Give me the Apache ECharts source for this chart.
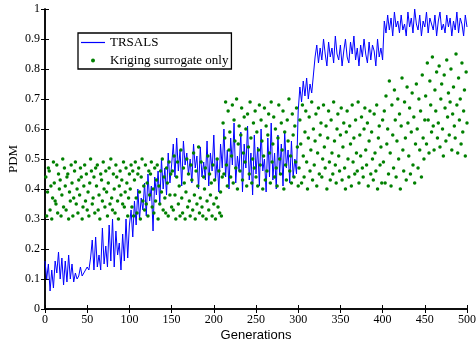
<!DOCTYPE html>
<html>
<head>
<meta charset="utf-8">
<script src="https://cdn.jsdelivr.net/npm/echarts@6/dist/echarts.min.js"></script>
<style>html,body{margin:0;padding:0;background:#fff}#c{width:476px;height:346px}</style>
</head>
<body>
<div id="c"></div>
<script>
// TRSALS line: generations 0,2,4,...,500
const trsals = [
.16,.10,.15,.06,.13,.07,.16,.12,.19,.10,.17,.08,.16,.09,.18,.10,.15,.09,
.12,.10,.11,.14,.11,.12,.13,.14,.13,.17,
.23,.13,.24,.14,.18,.13,.27,.15,.21,.14,.28,.16,.30,.14,.26,.18,.22,.13,.25,.16,.30,.17,.28,
.33,.24,.36,.28,.40,.30,.37,.33,.42,.31,.45,.36,.41,.26,.44,.38,.46,.35,.50,.40,.47,.38,.52,.42,.48,
.55,.44,.57,.46,.53,.41,.56,.48,.52,.45,
.50,.42,.55,.47,.51,.40,.54,.44,.49,.43,
.56,.41,.52,.46,.58,.43,.50,.39,.55,.47,
.60,.44,.53,.40,.57,.48,.62,.42,.51,.46,
.59,.39,.55,.47,.61,.43,.52,.38,.58,.45,
.54,.41,.60,.46,.50,.39,.57,.44,.62,.43,
.52,.40,.58,.45,.55,.41,.59,.47,.53,.42,
.56,.44,.50,.45,
.66,.74,.69,.76,.71,.77,.70,.75,.72,.78,
.84,.88,.82,.87,.83,.90,.85,.81,.89,.84,
.87,.82,.91,.85,.83,.88,.81,.86,.90,.84,
.82,.89,.85,.91,.83,.87,.81,.88,.84,.90,
.85,.82,.89,.83,.88,.86,.81,.90,.84,.87,
.83,
.96,.92,.98,.93,.97,.91,.99,.94,.96,.92,
.98,.93,.95,.91,.99,.94,.97,.92,1.0,.95,
.93,.98,.91,.96,.94,.99,.92,.97,.95,.93,
.98,.91,.96,.99,.93,.95,.92,.98,.94,.97,
.91,.96,.93,.99,.92,.97,.95,.91,.98,.94
];
const trsalsStep = 2;

// Kriging surrogate only: generations 1..500
const kriging = [
.44,.31,.39,.47,.46,.33,.41,.30,.37,.49, .42,.36,.35,.48,.32,.45,.40,.43,.31,.38,
.50,.34,.47,.41,.33,.44,.45,.30,.39,.36, .48,.42,.31,.37,.46,.49,.35,.40,.32,.43,
.38,.47,.44,.30,.34,.41,.48,.36,.45,.33, .39,.31,.42,.50,.46,.35,.37,.44,.32,.47,
.41,.48,.33,.38,.30,.45,.43,.36,.49,.40, .34,.46,.39,.31,.42,.47,.35,.50,.37,.33,
.45,.40,.32,.48,.44,.36,.30,.41,.46,.38, .43,.35,.49,.34,.39,.47,.42,.31,.37,.45,
.40,.48,.34,.46,.31,.43,.49,.37,.32,.45, .47,.39,.30,.44,.50,.36,.41,.33,.48,.35,
.42,.31,.46,.38,.45,.49,.34,.40,.32,.47, .36,.43,.48,.30,.41,.35,.46,.39,.50,.33,
.44,.37,.32,.47,.42,.31,.49,.38,.45,.34,
.46,.33,.51,.38,.30,.44,.49,.35,.41,.31, .53,.37,.32,.47,.42,.30,.39,.50,.34,.45,
.36,.31,.48,.43,.33,.52,.38,.30,.46,.35, .41,.54,.32,.37,.49,.34,.31,.44,.40,.47,
.30,.36,.51,.33,.45,.38,.42,.31,.48,.35, .43,.30,.37,.50,.34,.46,.32,.39,.31,.44,
.62,.45,.57,.69,.48,.41,.66,.53,.59,.44, .51,.68,.42,.63,.56,.47,.70,.40,.55,.61,
.46,.58,.67,.43,.52,.64,.49,.60,.41,.65, .54,.45,.69,.57,.42,.50,.62,.47,.66,.44,
.59,.41,.53,.68,.48,.63,.56,.40,.51,.67, .43,.61,.46,.58,.65,.52,.42,.69,.49,.55,
.64,.44,.60,.47,.41,.57,.68,.50,.45,.62, .53,.66,.40,.59,.48,.43,.63,.56,.70,.46,
.51,.42,.65,.58,.44,.61,.49,.67,.54,.41,
.47,.63,.55,.42,.68,.51,.44,.59,.66,.49, .40,.57,.64,.46,.53,.69,.43,.60,.48,.56,
.65,.41,.52,.67,.45,.58,.62,.44,.50,.68, .54,.47,.61,.40,.57,.66,.49,.43,.63,.52,
.45,.69,.56,.48,.42,.60,.65,.51,.46,.58, .67,.43,.54,.62,.47,.40,.59,.66,.50,.44,
.61,.55,.41,.68,.49,.57,.45,.63,.52,.46, .69,.42,.58,.51,.64,.47,.44,.60,.67,.53,
.48,.62,.41,.56,.66,.45,.59,.50,.43,.65, .52,.46,.68,.40,.57,.61,.48,.54,.42,.63,
.49,.66,.42,.71,.55,.60,.45,.76,.52,.41, .68,.58,.47,.73,.63,.44,.56,.70,.50,.65,
.40,.61,.77,.53,.46,.69,.57,.43,.74,.62, .51,.67,.45,.59,.72,.48,.64,.42,.55,.75,
.60,.47,.70,.53,.66,.44,.78,.57,.50,.63,
.71,.55,.82,.63,.52,.76,.68,.59,.84,.61, .53,.73,.66,.79,.57,.62,.81,.54,.70,.75,
.60,.51,.78,.67,.56,.83,.64,.72,.58,.69, .80,.53,.65,.74,.61,.57,.85,.68,.52,.77,
.63,.70,.55,.82,.59,.66,.73,.51,.79,.62
];
const krigingStart = 1;

const xTicks = [0,50,100,150,200,250,300,350,400,450,500];
const yTicks = [0,0.1,0.2,0.3,0.4,0.5,0.6,0.7,0.8,0.9,1];

const lineData = trsals.map((v,i)=>[i*trsalsStep, v]);
const dotData = kriging.map((v,i)=>[i+krigingStart, v]);

const serif = '"Liberation Serif","Times New Roman",serif';
const axisLine = {show:true, lineStyle:{color:'#000', width:1.5}};
const tick = {show:true, inside:true, length:4, lineStyle:{color:'#000'}};
const chart = echarts.init(document.getElementById('c'), null, {renderer:'canvas'});
chart.setOption({
  animation:false,
  backgroundColor:'#fff',
  grid:{left:45, right:9, top:9, bottom:37, containLabel:false, outerBoundsMode:'none'},
  legend:{
    show:true, orient:'vertical', left:78, top:33,
    padding:[3,3,2,3], itemGap:5, itemWidth:24, itemHeight:4,
    backgroundColor:'#fff', borderColor:'#000', borderWidth:1.3, borderRadius:0,
    textStyle:{fontFamily:serif, fontSize:13, color:'#000'},
    data:[
      {name:'TRSALS', icon:'path://M0,0 L24,0 L24,1.2 L0,1.2 Z', itemStyle:{color:'#0000ff'}},
      {name:'Kriging surrogate only', icon:'circle', itemStyle:{color:'#008000'}}
    ]
  },
  xAxis:[{
    type:'value', min:0, max:500, interval:50,
    name:'Generations', nameLocation:'middle', nameGap:20, nameMoveOverlap:false,
    nameTextStyle:{fontFamily:'"Liberation Sans",Arial,sans-serif', fontSize:13, color:'#000'},
    axisLine:axisLine, axisTick:tick,
    axisLabel:{fontFamily:serif, fontSize:12, color:'#000', margin:5,
      formatter:(v)=> xTicks.includes(v)? String(v):''},
    splitLine:{show:false}
  },{
    type:'value', position:'top', min:0, max:500, interval:50,
    axisLine:axisLine, axisTick:tick, axisLabel:{show:false}, splitLine:{show:false}
  }],
  yAxis:[{
    type:'value', min:0, max:1, interval:0.1,
    name:'PDM', nameLocation:'middle', nameGap:25, nameRotate:90, nameMoveOverlap:false,
    nameTextStyle:{fontFamily:serif, fontSize:13, color:'#000'},
    axisLine:axisLine, axisTick:tick,
    axisLabel:{fontFamily:serif, fontSize:12, color:'#000', margin:5,
      formatter:(v)=>{ const t=yTicks.find(y=>Math.abs(y-v)<1e-9); return t===undefined?'':String(t);} },
    splitLine:{show:false}
  },{
    type:'value', position:'right', min:0, max:1, interval:0.1,
    axisLine:axisLine, axisTick:tick, axisLabel:{show:false}, splitLine:{show:false}
  }],
  series:[{
    name:'TRSALS', type:'line', data:lineData, symbol:'none', showSymbol:false,
    lineStyle:{color:'#0000ff', width:1}, itemStyle:{color:'#0000ff'}, z:2
  },{
    name:'Kriging surrogate only', type:'scatter', data:dotData, symbol:'circle', symbolSize:3.5,
    itemStyle:{color:'#008000', opacity:1}, z:3
  }]
});
</script>
</body>
</html>
